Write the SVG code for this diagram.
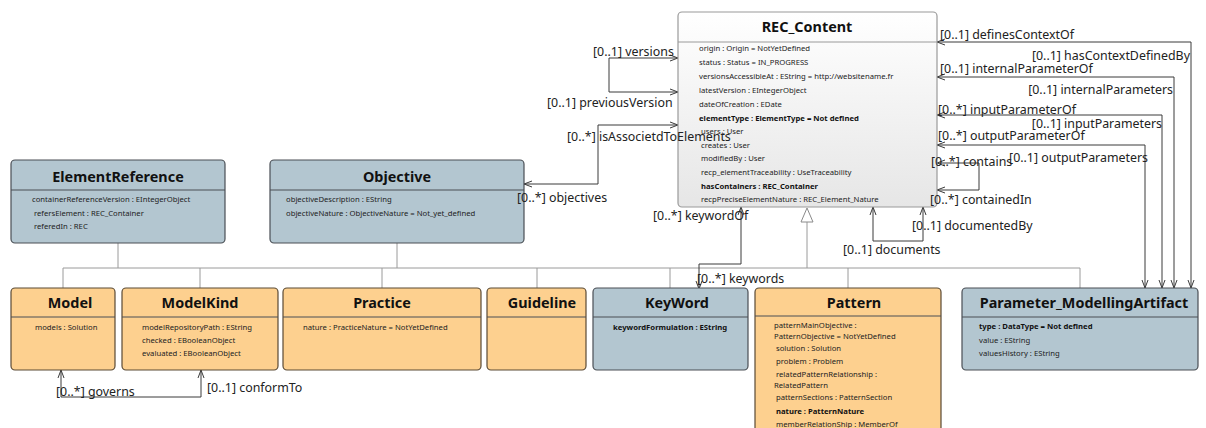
<svg xmlns="http://www.w3.org/2000/svg" width="1206" height="428" viewBox="0 0 1206 428">
<style>
.bg{fill:#ffffff}
.blue{fill:#b3c6d0;stroke:#4a4f55;stroke-width:1.2}
.orange{fill:#fdd08f;stroke:#5a4a35;stroke-width:1.2}
.rec{fill:url(#g);stroke:#9a9a9a;stroke-width:1.2}
.sep{stroke:#4a4f55;stroke-width:1}
.sepr{stroke:#9a9a9a;stroke-width:1}
.t{font-family:"Noto Sans","Open Sans",sans-serif;font-weight:bold;font-size:14.4px;fill:#111;text-anchor:middle}
.a{font-family:"Noto Sans","Open Sans",sans-serif;font-size:7.7px;fill:#222}
.ab{font-family:"Noto Sans","Open Sans",sans-serif;font-size:7.7px;fill:#111;font-weight:bold}
.l{font-family:"Noto Sans","Open Sans",sans-serif;font-size:12.4px;fill:#222}
.c{fill:none;stroke:#3a3a3a;stroke-width:1;marker-start:url(#as);marker-end:url(#ae)}
.tree{fill:none;stroke:#9a9a9a;stroke-width:1}
</style>
<defs>
<linearGradient id="g" x1="0" y1="0" x2="0" y2="1">
<stop offset="0" stop-color="#ffffff"/>
<stop offset="1" stop-color="#e6e6e6"/>
</linearGradient>
<marker id="ae" viewBox="0 0 8 8" refX="8" refY="4" markerWidth="8" markerHeight="8" markerUnits="userSpaceOnUse" orient="auto">
<path d="M0,1 L8,4 L0,7" fill="none" stroke="#3a3a3a" stroke-width="1"/>
</marker>
<marker id="as" viewBox="0 0 8 8" refX="8" refY="4" markerWidth="8" markerHeight="8" markerUnits="userSpaceOnUse" orient="auto-start-reverse">
<path d="M0,1 L8,4 L0,7" fill="none" stroke="#3a3a3a" stroke-width="1"/>
</marker>
</defs>
<rect class="bg" x="0" y="0" width="1206" height="428"/>

<g id="tree">
<path class="tree" d="M118,243 V268 M397,243 V268 M63,268 H1080 M63,268 V288 M200,268 V288 M382,268 V288 M537,268 V288 M670,268 V288 M848,268 V288 M1080,268 V288 M807,268 V222"/>
<polygon points="807,208 801,222 813,222" fill="#ffffff" stroke="#8a8a8a" stroke-width="1"/>
</g>

<g id="connectors">
<path class="c" d="M678,58 H609 V92 H678"/>
<path class="c" d="M524,184 H598 V125 H678"/>
<path class="c" d="M741,207 V264 H699 V289"/>
<path class="c" d="M873,207 V241 H923 V207"/>
<path class="c" d="M937,163 H979 V190 H937"/>
<path class="c" d="M937,42 H1191 V288"/>
<path class="c" d="M937,77 H1174 V288"/>
<path class="c" d="M937,115 H1162 V288"/>
<path class="c" d="M937,145 H1145 V288"/>
<path class="c" d="M61,370 V397 H201 V370"/>
</g>

<g id="REC_Content">
<rect class="rec" x="678" y="12" width="259" height="195" rx="4"/>
<line class="sepr" x1="678" y1="42" x2="937" y2="42"/>
<text class="t" x="807" y="32">REC_Content</text>
<text class="a" x="699" y="51">origin : Origin = NotYetDefined</text>
<text class="a" x="699" y="65">status : Status = IN_PROGRESS</text>
<text class="a" x="699" y="79">versionsAccessibleAt : EString = http://websitename.fr</text>
<text class="a" x="699" y="93">latestVersion : EIntegerObject</text>
<text class="a" x="699" y="107">dateOfCreation : EDate</text>
<text class="ab" x="699" y="121">elementType : ElementType = Not defined</text>
<text class="a" x="701" y="134">users : User</text>
<text class="a" x="701" y="148">creates : User</text>
<text class="a" x="701" y="161">modifiedBy : User</text>
<text class="a" x="701" y="175">recp_elementTraceability : UseTraceability</text>
<text class="ab" x="701" y="189">hasContainers : REC_Container</text>
<text class="a" x="701" y="202">recpPreciseElementNature : REC_Element_Nature</text>
</g>

<g id="ElementReference">
<rect class="blue" x="11" y="160" width="214" height="83" rx="4"/>
<line class="sep" x1="11" y1="190" x2="225" y2="190"/>
<text class="t" x="118" y="182">ElementReference</text>
<text class="a" x="32" y="202">containerReferenceVersion : EIntegerObject</text>
<text class="a" x="34" y="216">refersElement : REC_Container</text>
<text class="a" x="34" y="229">referedIn : REC</text>
</g>

<g id="Objective">
<rect class="blue" x="270" y="160" width="254" height="83" rx="4"/>
<line class="sep" x1="270" y1="190" x2="524" y2="190"/>
<text class="t" x="397" y="182">Objective</text>
<text class="a" x="286" y="202">objectiveDescription : EString</text>
<text class="a" x="286" y="216">objectiveNature : ObjectiveNature = Not_yet_defined</text>
</g>

<g id="Model">
<rect class="orange" x="11" y="288" width="104" height="82" rx="4"/>
<line class="sep" x1="11" y1="317" x2="115" y2="317"/>
<text class="t" x="70" y="308">Model</text>
<text class="a" x="35" y="330">models : Solution</text>
</g>

<g id="ModelKind">
<rect class="orange" x="122" y="288" width="156" height="82" rx="4"/>
<line class="sep" x1="122" y1="317" x2="278" y2="317"/>
<text class="t" x="200" y="308">ModelKind</text>
<text class="a" x="142" y="330">modelRepositoryPath : EString</text>
<text class="a" x="142" y="343">checked : EBooleanObject</text>
<text class="a" x="142" y="356">evaluated : EBooleanObject</text>
</g>

<g id="Practice">
<rect class="orange" x="283" y="288" width="198" height="82" rx="4"/>
<line class="sep" x1="283" y1="317" x2="481" y2="317"/>
<text class="t" x="382" y="308">Practice</text>
<text class="a" x="303" y="330">nature : PracticeNature = NotYetDefined</text>
</g>

<g id="Guideline">
<rect class="orange" x="487" y="288" width="99" height="82" rx="4"/>
<line class="sep" x1="487" y1="317" x2="586" y2="317"/>
<text class="t" x="542" y="308">Guideline</text>
</g>

<g id="KeyWord">
<rect class="blue" x="593" y="288" width="155" height="82" rx="4"/>
<line class="sep" x1="593" y1="317" x2="748" y2="317"/>
<text class="t" x="677" y="308">KeyWord</text>
<text class="ab" x="613" y="330">keywordFormulation : EString</text>
</g>

<g id="Pattern">
<rect class="orange" x="755" y="288" width="186" height="150" rx="4"/>
<line class="sep" x1="755" y1="316" x2="941" y2="316"/>
<text class="t" x="854" y="308">Pattern</text>
<text class="a" x="774" y="328">patternMainObjective :</text>
<text class="a" x="774" y="339">PatternObjective = NotYetDefined</text>
<text class="a" x="776" y="351">solution : Solution</text>
<text class="a" x="776" y="364">problem : Problem</text>
<text class="a" x="776" y="377">relatedPatternRelationship :</text>
<text class="a" x="774" y="388">RelatedPattern</text>
<text class="a" x="776" y="400">patternSections : PatternSection</text>
<text class="ab" x="776" y="414">nature : PatternNature</text>
<text class="a" x="776" y="427">memberRelationShip : MemberOf</text>
</g>

<g id="Parameter_ModellingArtifact">
<rect class="blue" x="962" y="288" width="236" height="82" rx="4"/>
<line class="sep" x1="962" y1="317" x2="1198" y2="317"/>
<text class="t" x="1084" y="308">Parameter_ModellingArtifact</text>
<text class="ab" x="979" y="329">type : DataType = Not defined</text>
<text class="a" x="979" y="343">value : EString</text>
<text class="a" x="979" y="356">valuesHistory : EString</text>
</g>

<g id="labels">
<text class="l" x="593" y="56">[0..1] versions</text>
<text class="l" x="547" y="107">[0..1] previousVersion</text>
<text class="l" x="567" y="141">[0..*] isAssocietdToElements</text>
<text class="l" x="517" y="202">[0..*] objectives</text>
<text class="l" x="653" y="220">[0..*] keywordOf</text>
<text class="l" x="697" y="283">[0..*] keywords</text>
<text class="l" x="843" y="254">[0..1] documents</text>
<text class="l" x="912" y="230">[0..1] documentedBy</text>
<text class="l" x="930" y="204">[0..*] containedIn</text>
<text class="l" x="931" y="166">[0..*] contains</text>
<text class="l" x="940" y="39">[0..1] definesContextOf</text>
<text class="l" x="1190" y="60" text-anchor="end">[0..1] hasContextDefinedBy</text>
<text class="l" x="940" y="73">[0..1] internalParameterOf</text>
<text class="l" x="1173" y="94" text-anchor="end">[0..1] internalParameters</text>
<text class="l" x="938" y="114">[0..*] inputParameterOf</text>
<text class="l" x="1162" y="128" text-anchor="end">[0..1] inputParameters</text>
<text class="l" x="938" y="140">[0..*] outputParameterOf</text>
<text class="l" x="1148" y="162" text-anchor="end">[0..1] outputParameters</text>
<text class="l" x="56" y="396">[0..*] governs</text>
<text class="l" x="207" y="392">[0..1] conformTo</text>
</g>
</svg>
